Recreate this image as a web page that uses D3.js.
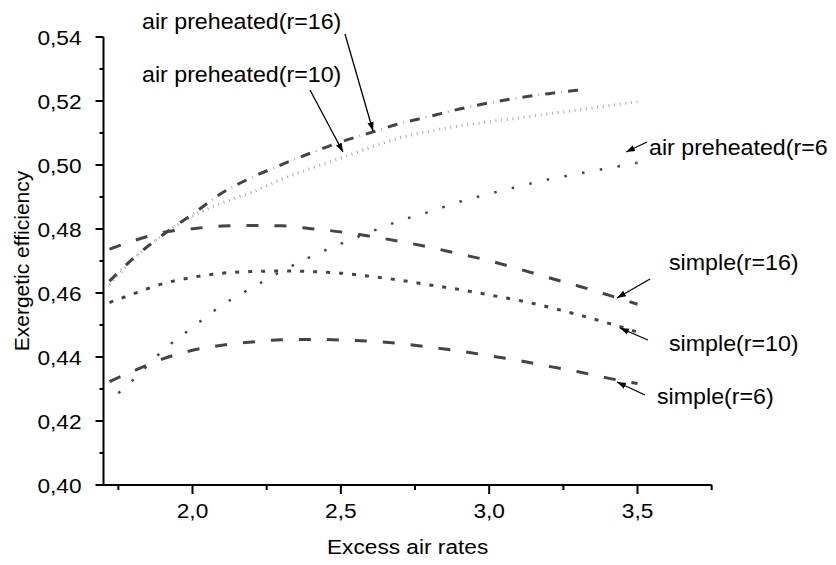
<!DOCTYPE html>
<html>
<head>
<meta charset="utf-8">
<script src="https://d3js.org/d3.v7.min.js"></script>
<style>
  body { margin: 0; padding: 0; background: #fff; }
  svg { display: block; }
  text { font-family: "Liberation Sans", Arial, sans-serif; fill: #000; }
</style>
</head>
<body>
<svg id="chart" width="836" height="565"></svg>
<script>
// excess air rate values, one set per curve
const xSimple = [1.72, 1.8, 1.9, 2.0, 2.1, 2.2, 2.3, 2.4, 2.5, 2.6, 2.7, 2.8, 2.9, 3.0, 3.1, 3.2, 3.3, 3.4, 3.5];
const simple16 = [0.4737, 0.4763, 0.4789, 0.4801, 0.4809, 0.4811, 0.4810, 0.4801, 0.4791, 0.4777, 0.4761, 0.4743, 0.4722, 0.4701, 0.4675, 0.4648, 0.4622, 0.4594, 0.4565];
const simple10 = [0.4570, 0.4597, 0.4629, 0.4649, 0.4662, 0.4667, 0.4669, 0.4667, 0.4662, 0.4652, 0.4640, 0.4625, 0.4611, 0.4594, 0.4577, 0.4556, 0.4532, 0.4506, 0.4478];
const simple6 = [0.4323, 0.4356, 0.4394, 0.4421, 0.4437, 0.4447, 0.4454, 0.4455, 0.4453, 0.4449, 0.4442, 0.4431, 0.4419, 0.4404, 0.4389, 0.4371, 0.4354, 0.4334, 0.4317];

const xAir6 = [1.75, 1.8, 1.9, 2.0, 2.1, 2.2, 2.3, 2.4, 2.5, 2.6, 2.7, 2.8, 2.9, 3.0, 3.1, 3.2, 3.3, 3.4, 3.5];
const air6 = [0.4287, 0.4329, 0.4420, 0.4493, 0.4562, 0.4616, 0.4668, 0.4714, 0.4754, 0.4791, 0.4826, 0.4854, 0.4885, 0.4910, 0.4933, 0.4955, 0.4973, 0.4990, 0.5007];

const xAir10 = [1.72, 1.8, 1.9, 2.0, 2.1, 2.2, 2.3, 2.4, 2.5, 2.6, 2.7, 2.8, 2.9, 3.0, 3.1, 3.2, 3.3, 3.4, 3.5];
const air10 = [0.4625, 0.4705, 0.4782, 0.4840, 0.4882, 0.4915, 0.4955, 0.4990, 0.5022, 0.5055, 0.5085, 0.5106, 0.5122, 0.5135, 0.5147, 0.5160, 0.5172, 0.5185, 0.5198];

const xAir16 = [1.72, 1.8, 1.9, 2.0, 2.1, 2.2, 2.3, 2.4, 2.5, 2.6, 2.7, 2.8, 2.9, 3.0, 3.1, 3.2, 3.3];
const air16 = [0.4637, 0.4708, 0.4782, 0.4846, 0.4913, 0.4961, 0.5001, 0.5038, 0.5072, 0.5101, 0.5130, 0.5152, 0.5175, 0.5194, 0.5210, 0.5223, 0.5234];

const xTicks = [2.0, 2.5, 3.0, 3.5];
const xMinor = [1.75, 2.25, 2.75, 3.25, 3.75];
const yTicks = [0.40, 0.42, 0.44, 0.46, 0.48, 0.50, 0.52, 0.54];
const yMinor = [0.41, 0.43, 0.45, 0.47, 0.49, 0.51, 0.53];

// annotation labels: text, text position, arrow start, arrow tip
const notes = [
  { t: "air preheated(r=16)", tx: 142, ty: 29, x1: 345, y1: 34, x2: 373, y2: 131 },
  { t: "air preheated(r=10)", tx: 142, ty: 82, x1: 310, y1: 90, x2: 343, y2: 152 },
  { t: "air preheated(r=6", tx: 649, ty: 155, x1: 647, y1: 142, x2: 626, y2: 152 },
  { t: "simple(r=16)", tx: 669, ty: 270, x1: 650, y1: 279, x2: 617, y2: 298 },
  { t: "simple(r=10)", tx: 669, ty: 351, x1: 648, y1: 340, x2: 620, y2: 328 },
  { t: "simple(r=6)", tx: 657, ty: 404, x1: 645, y1: 395, x2: 617, y2: 382 }
];

const fmt = d => d3.format(d >= 1 ? ".1f" : ".2f")(d).replace(".", ",");
const textScale = 1.08;

const svg = d3.select("#chart");
const x = d3.scaleLinear().domain([1.70, 3.75]).range([103.5, 711.7]);
const y = d3.scaleLinear().domain([0.40, 0.54]).range([485, 37]);

// axes
const gx = svg.append("g").attr("transform", "translate(0,485)");
gx.append("line").attr("x1", x(1.70)).attr("x2", x(3.75)).attr("stroke", "#000").attr("stroke-width", 2);
gx.selectAll(".maj").data(xTicks).join("line")
  .attr("x1", d => x(d)).attr("x2", d => x(d)).attr("y1", 0).attr("y2", 9)
  .attr("stroke", "#000").attr("stroke-width", 2);
gx.selectAll(".min").data(xMinor).join("line")
  .attr("x1", d => x(d)).attr("x2", d => x(d)).attr("y1", 0).attr("y2", 5)
  .attr("stroke", "#000").attr("stroke-width", 2);
gx.selectAll("text").data(xTicks).join("text")
  .attr("transform", d => `translate(${x(d)},33) scale(${textScale},1)`)
  .attr("text-anchor", "middle").attr("font-size", 21).text(fmt);

const gy = svg.append("g").attr("transform", "translate(103.5,0)");
gy.append("line").attr("y1", y(0.40) + 1).attr("y2", y(0.54)).attr("stroke", "#000").attr("stroke-width", 2);
gy.selectAll(".maj").data(yTicks).join("line")
  .attr("y1", d => y(d)).attr("y2", d => y(d)).attr("x1", 0).attr("x2", -8)
  .attr("stroke", "#000").attr("stroke-width", 2);
gy.selectAll(".min").data(yMinor).join("line")
  .attr("y1", d => y(d)).attr("y2", d => y(d)).attr("x1", 0).attr("x2", -4)
  .attr("stroke", "#000").attr("stroke-width", 2);
gy.selectAll("text").data(yTicks).join("text")
  .attr("transform", d => `translate(-22,${y(d) + 7.5}) scale(${textScale},1)`)
  .attr("text-anchor", "end").attr("font-size", 21).text(fmt);

svg.append("text")
  .attr("transform", `translate(${x(2.725)},554) scale(${textScale},1)`)
  .attr("text-anchor", "middle").attr("font-size", 21).text("Excess air rates");
svg.append("text")
  .attr("transform", "translate(29,261) rotate(-90)")
  .attr("text-anchor", "middle").attr("font-size", 21).text("Exergetic efficiency");

// curves
const line = d3.line().x(d => x(d[0])).y(d => y(d[1])).curve(d3.curveMonotoneX);
function curve(xs, ys, stroke, width, dash, offset) {
  svg.append("path").datum(d3.zip(xs, ys)).attr("d", line)
    .attr("fill", "none").attr("stroke", stroke).attr("stroke-width", width)
    .attr("stroke-dasharray", dash).attr("stroke-dashoffset", offset || 0);
}
curve(xSimple, simple16, "#444", 3, "12,16");
curve(xSimple, simple10, "#444", 3, "4,9");
curve(xSimple, simple6, "#444", 3, "12,16");
curve(xAir6, air6, "#444", 2.5, "2.5,15.5");
curve(xAir10, air10, "#aaa", 3, "1,4.7");
curve(xAir16, air16, "#aaa", 2.5, "1,22", -16);
curve(xAir16, air16, "#444", 3, "10,13");

// annotations
svg.append("defs").append("marker")
  .attr("id", "ah").attr("viewBox", "0 0 10 10").attr("refX", 10).attr("refY", 5)
  .attr("markerWidth", 9).attr("markerHeight", 9).attr("markerUnits", "userSpaceOnUse")
  .attr("orient", "auto")
  .append("path").attr("d", "M0,1.5 L10,5 L0,8.5 Z").attr("fill", "#000");

const gn = svg.append("g");
gn.selectAll("line").data(notes).join("line")
  .attr("x1", d => d.x1).attr("y1", d => d.y1).attr("x2", d => d.x2).attr("y2", d => d.y2)
  .attr("stroke", "#000").attr("stroke-width", 1.3).attr("marker-end", "url(#ah)");
gn.selectAll("text").data(notes).join("text")
  .attr("transform", d => `translate(${d.tx},${d.ty}) scale(${textScale},1)`)
  .attr("font-size", 21.5).text(d => d.t);
</script>
</body>
</html>
